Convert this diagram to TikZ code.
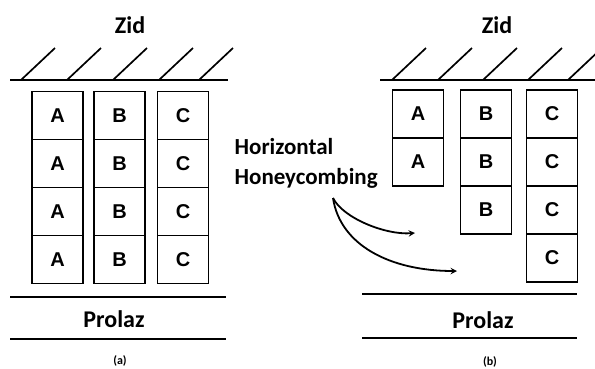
\documentclass[tikz,border=0pt]{standalone}
\usepackage{fontspec}
\setmainfont{Carlito}
\newfontfamily\cellfont{Liberation Sans}
\usetikzlibrary{positioning}
\usetikzlibrary{arrows}

\begin{document}
\begin{tikzpicture}[
            > = stealth, % arrow head style
            x = 1pt, y = -1pt, % pixel grid of the figure
            node distance = 0pt, % cells sit on one another
            semithick % line style
        ]

        \tikzstyle{cell}=[
            draw,
            line width = 1.8pt,
            outer sep = 0pt,
            minimum width = 51pt,
            minimum height = 48pt,
            font = \cellfont\bfseries\fontsize{20}{20}\selectfont
        ]
        \tikzstyle{tag}=[font = \bfseries\fontsize{24}{24}\selectfont]
        \tikzstyle{ground}=[line width = 2.2pt]
        \tikzstyle{hatch}=[line width = 1.7pt]

        \useasboundingbox (0,0) rectangle (595,368);

	% (a) WALL AND CELLS BEFORE
        \node[tag] (Z1) at (130,25) {Zid};
        \draw[ground] (10,80) -- (228,80);
        \foreach \x in {21,67,113,159,199} \draw[hatch] (\x,80) -- ++(34,-32);

        \node[cell] (A1) at (57.5,115.5) {A};
        \node[cell] (A2) [below = of A1] {A};
        \node[cell] (A3) [below = of A2] {A};
        \node[cell] (A4) [below = of A3] {A};

        \node[cell] (B1) at (119.5,115.5) {B};
        \node[cell] (B2) [below = of B1] {B};
        \node[cell] (B3) [below = of B2] {B};
        \node[cell] (B4) [below = of B3] {B};

        \node[cell] (C1) at (183,115.5) {C};
        \node[cell] (C2) [below = of C1] {C};
        \node[cell] (C3) [below = of C2] {C};
        \node[cell] (C4) [below = of C3] {C};

        \draw[ground] (10,297) -- (226,297);
        \node[tag] (P1) at (114,319) {Prolaz};
        \draw[ground] (10,339) -- (226,339);
        \node[font = \bfseries\fontsize{12}{12}\selectfont] (SA) at (120,361) {(a)};

	% (b) WALL AND CELLS AFTER
        \node[tag] (Z2) at (497,25) {Zid};
        \draw[ground] (380,80) -- (595,80);
        \foreach \x in {392,438,483,528,568} \draw[hatch] (\x,80) -- ++(34,-32);

        \node[cell] (RA1) at (418,114) {A};
        \node[cell] (RA2) [below = of RA1] {A};

        \node[cell] (RB1) at (486,114) {B};
        \node[cell] (RB2) [below = of RB1] {B};
        \node[cell] (RB3) [below = of RB2] {B};

        \node[cell] (RC1) at (552,114) {C};
        \node[cell] (RC2) [below = of RC1] {C};
        \node[cell] (RC3) [below = of RC2] {C};
        \node[cell] (RC4) [below = of RC3] {C};

        \draw[ground] (362,294) -- (577,294);
        \node[tag] (P2) at (483,320) {Prolaz};
        \draw[ground] (362,338) -- (577,338);
        \node[font = \bfseries\fontsize{12}{12}\selectfont] (SB) at (490,362) {(b)};

	% HONEYCOMBING NOTE
        \node[tag, anchor = west, align = left, font = \bfseries\fontsize{23}{30}\selectfont] (HH) at (231,163) {Horizontal\\Honeycombing};
        \coordinate (hs) at (333,198);
        \coordinate (h1) at (415,233);
        \coordinate (h2) at (457,271);

        \draw[->, line width = 1.8pt] (hs) .. controls (343,218) and (385,235) .. (h1);
        \draw[->, line width = 1.8pt] (hs) .. controls (340,245) and (390,271) .. (h2);

  \end{tikzpicture}
\end{document}
